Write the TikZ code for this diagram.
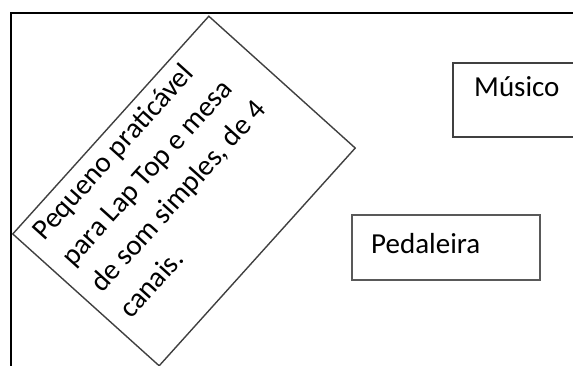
\documentclass[tikz,border=0pt]{standalone}
\usepackage{fontspec}
\setmainfont{Carlito}
\usetikzlibrary{positioning}

\tikzset{
  caixa/.style={draw=black!75, line width=1.4pt, inner sep=0pt},
  texto/.style={inner sep=0pt, font=\fontsize{29}{39}\selectfont}
}

\begin{document}
\begin{tikzpicture}[x=1pt, y=-1pt]
    \useasboundingbox (0,0) rectangle (573,365);
    \clip (0,0) rectangle (573,365);
    % moldura
    \draw[line width=1.3pt] (11,13) rectangle (600,400);

    % praticavel (rodado)
    \node[caixa, rotate=48, minimum width=293pt, minimum height=197pt] (pratic) at (184,191) {};
    \node[texto, rotate=48, anchor=north west, align=left, inner xsep=16pt, inner ysep=9pt]
        (pratictxt) at (pratic.north west)
        {Pequeno praticável\\para Lap Top e mesa\\de som simples, de 4\\canais.};

    % musico
    \node[caixa, minimum width=140pt, minimum height=74pt] (musico) at (523,100) {};
    \node[texto, anchor=base west] (musicotxt) at (474,96) {Músico};

    % pedaleira
    \node[caixa, line width=1.8pt, draw=black!65, minimum width=188pt, minimum height=65pt] (pedal) at (446,247.5) {};
    \node[texto, anchor=base west] (pedaltxt) at (371,253) {Pedaleira};
\end{tikzpicture}
\end{document}
